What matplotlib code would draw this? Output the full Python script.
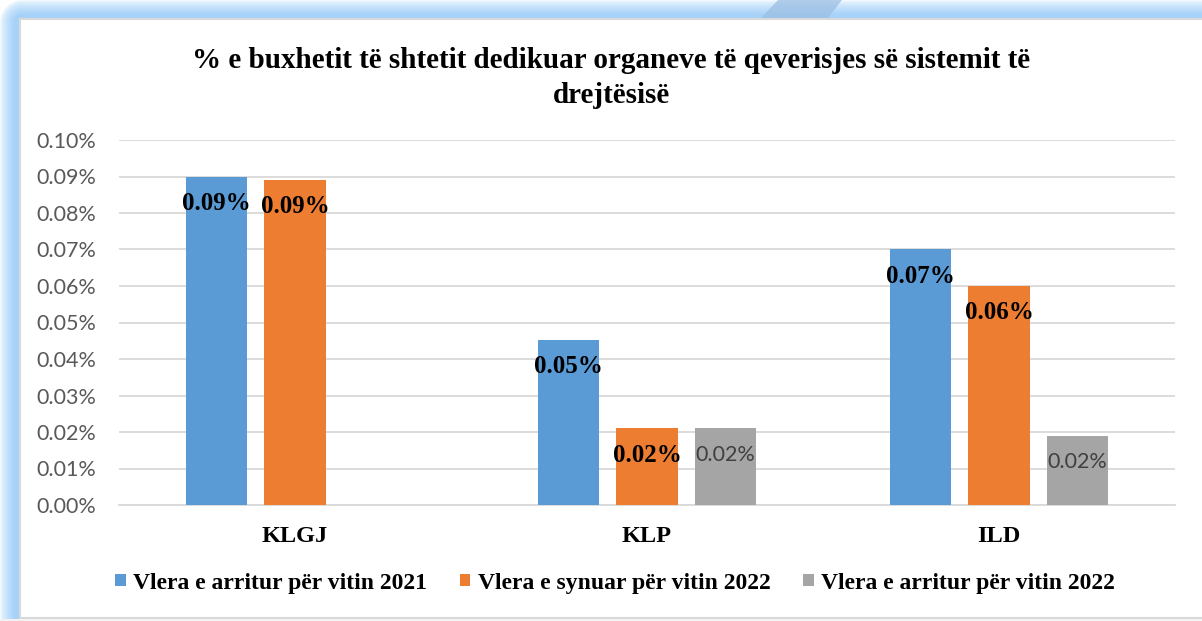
import numpy as np
import matplotlib.pyplot as plt
from matplotlib.colors import to_rgb
from matplotlib.patches import Rectangle, Polygon
from matplotlib.ticker import FuncFormatter

# ── Data ──────────────────────────────────────────────────────────────────────
categories = ["KLGJ", "KLP", "ILD"]
series_names = [
    "Vlera e arritur për vitin 2021",
    "Vlera e synuar për vitin 2022",
    "Vlera e arritur për vitin 2022",
]
arritur_2021 = [0.090, 0.0452, 0.070]
synuar_2022 = [0.089, 0.021, 0.060]
arritur_2022 = [None, 0.021, 0.019]
y_ticks = [0.00, 0.01, 0.02, 0.03, 0.04, 0.05, 0.06, 0.07, 0.08, 0.09, 0.10]
title = "% e buxhetit të shtetit dedikuar organeve të qeverisjes së sistemit të\ndrejtësisë"

colors = ["#5b9bd5", "#ed7d31", "#a5a5a5"]
SERIF = ["Liberation Serif", "DejaVu Serif"]
SANS = ["Lato", "DejaVu Sans"]

W, H = 1202, 621
fig = plt.figure(figsize=(W / 100, H / 100), dpi=100)
fig.patch.set_facecolor("white")

# ── Frame: soft blue glow on top / left with a rounded outer corner ──────────
bg = fig.add_axes([0, 0, 1, 1], zorder=-5)
R = 22
gx, gy = np.meshgrid(np.arange(W) + 0.5, np.arange(H) + 0.5)
d = np.minimum(gx, gy)
corner = (gx < R) & (gy < R)
d[corner] = R - np.hypot(R - gx[corner], R - gy[corner])
t = np.clip(d / 15.0, 0, 1) ** 0.6
light = np.array(to_rgb("#ffffff"))
dark = np.array(to_rgb("#a6d2f9"))
frame = light[None, None, :] * (1 - t[..., None]) + dark[None, None, :] * t[..., None]
bg.imshow(frame, extent=[0, W, H, 0], aspect="auto", interpolation="bilinear")
bg.add_patch(Polygon([[760, 19], [778, 0], [842, 0], [827, 19]],
                     closed=True, facecolor="#9bbfe2", edgecolor="none", alpha=0.75))
bg.add_patch(Rectangle((20, 19), W - 20 + 5, 599, facecolor="white",
                       edgecolor="#d9d9d9", linewidth=1.5))
bg.add_patch(Rectangle((0, 619), W, 3, facecolor="#f2f2f2", edgecolor="none"))
bg.set_xlim(0, W)
bg.set_ylim(H, 0)
bg.axis("off")

# ── Chart ─────────────────────────────────────────────────────────────────────
ax = fig.add_axes([119 / W, 1 - 505 / H, (1175 - 119) / W, (505 - 140) / H])
ax.set_facecolor("none")

x = np.arange(len(categories))
bw = 0.174
step = 0.222
all_series = [arritur_2021, synuar_2022, arritur_2022]
for i, (vals, col, name) in enumerate(zip(all_series, colors, series_names)):
    xs = [xi + (i - 1) * step for xi, v in zip(x, vals) if v is not None]
    vs = [v for v in vals if v is not None]
    bars = ax.bar(xs, vs, width=bw, color=col, label=name, zorder=3)
    for b, v in zip(bars, vs):
        if i < 2:
            ax.annotate(f"{v:.2f}%", (b.get_x() + b.get_width() / 2, v),
                        xytext=(0, -11), textcoords="offset points", ha="center",
                        va="top", fontsize=18, fontweight="bold", family=SERIF,
                        color="black", zorder=4)
        else:
            ax.annotate(f"{v:.2f}%", (b.get_x() + b.get_width() / 2, v),
                        xytext=(0, -12), textcoords="offset points", ha="center",
                        va="top", fontsize=15.5, family=SANS, color="#404040",
                        zorder=4)

ax.set_xlim(-0.5, len(categories) - 0.5)
ax.set_ylim(0, 0.10)
ax.set_yticks(y_ticks)
ax.yaxis.set_major_formatter(FuncFormatter(lambda v, p: f"{v:.2f}%"))
ax.grid(axis="y", color="#d9d9d9", linewidth=1.3, zorder=0)
ax.set_xticks(x)
ax.set_xticklabels(categories, fontsize=17.5, fontweight="bold", family=SERIF)
for lbl in ax.get_yticklabels():
    lbl.set_family(SANS)
    lbl.set_fontsize(15.5)
    lbl.set_color("#595959")
ax.tick_params(axis="both", length=0)
ax.tick_params(axis="x", pad=15)
ax.tick_params(axis="y", pad=16.5)
for s in ["top", "right", "left"]:
    ax.spines[s].set_visible(False)
ax.spines["bottom"].set_color("#d9d9d9")
ax.spines["bottom"].set_linewidth(1.3)

fig.text(611 / W, 1 - 78 / H, title, ha="center", va="center", fontsize=21,
         fontweight="bold", family=SERIF, linespacing=1.4)

fig.legend(loc="center", bbox_to_anchor=(615 / W, 1 - 583 / H), ncol=3, frameon=False,
           prop={"family": SERIF, "weight": "bold", "size": 17},
           handlelength=0.45, handleheight=0.45, handletextpad=0.3, columnspacing=1.4)

fig.savefig("out.png", dpi=100)
